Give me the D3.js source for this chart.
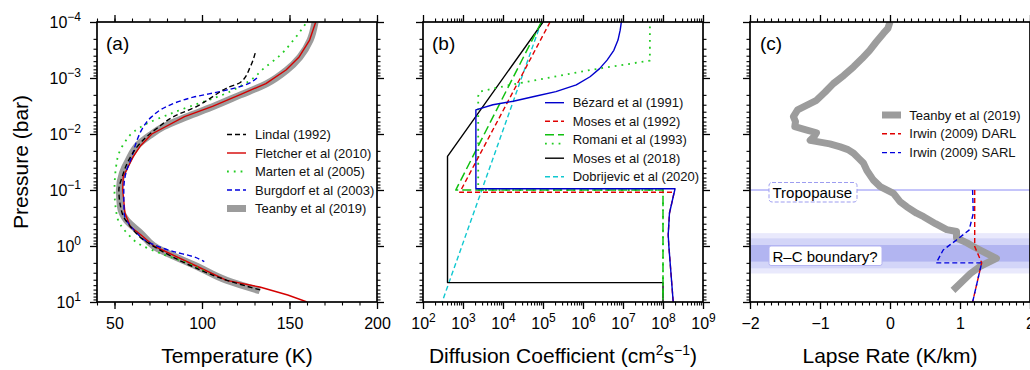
<!DOCTYPE html>
<html>
<head>
<meta charset="utf-8">
<script src="https://cdn.jsdelivr.net/npm/d3@7"></script>
<style>
body { margin: 0; background: #fff; }
svg { font-family: "Liberation Sans", Arial, Helvetica, sans-serif; }
</style>
</head>
<body>
<svg id="chart" width="1030" height="370"></svg>
<script>
// axis ranges and ticks
const pressureRange = [1e-4, 10];
const pressureTicks = [1e-4, 1e-3, 1e-2, 1e-1, 1, 10];
const tempRange = [40, 200];
const tempTicks = [50, 100, 150, 200];
const kzzRange = [1e2, 1e9];
const kzzTicks = [1e2, 1e3, 1e4, 1e5, 1e6, 1e7, 1e8, 1e9];
const lapseRange = [-2, 2];
const lapseTicks = [-2, -1, 0, 1, 2];

// (a) temperature profiles: [T (K), p (bar)]
const teanbyT = [[164.6,1e-4],[161.8,2.1e-4],[156,4.2e-4],[148.5,7.2e-4],[137,1.26e-3],[122,2.0e-3],[106.7,3.2e-3],
    [91.4,4.9e-3],[78,7.4e-3],[70.4,1.05e-2],[64,1.5e-2],[58,2.9e-2],[54.5,5.0e-2],[52.8,0.1],[53.4,0.2],[57,0.35],
    [65,0.59],[72.4,1],[97,2.3],[114,4.1],[133,6.3]];
const fletcher = [[165,1e-4],[161.5,2.1e-4],[155.5,4.2e-4],[148,7.2e-4],[136.5,1.26e-3],[121.5,2.0e-3],[106,3.2e-3],
    [90,4.9e-3],[71.3,1.0e-2],[65,1.6e-2],[60.8,2.5e-2],[55,5.8e-2],[54.7,0.1],[56,0.26],[59,0.45],[65,0.63],[72.5,1],
    [97,2.3],[114,4.1],[133,5.4],[149,7.5],[160,10]];
const lindal = [[130.4,3.6e-4],[127.6,6.3e-4],[121.9,1.2e-3],[114.3,1.5e-3],[106.7,2.1e-3],[97.1,3.2e-3],[83.8,4.9e-3],
    [74.3,7.9e-3],[68.6,1.1e-2],[62.9,1.7e-2],[58.2,2.9e-2],[54.4,5.8e-2],[52.5,0.1],[54.4,0.26],[59.1,0.45],
    [66.7,0.78],[74.3,1.1],[94.3,2.3],[114.3,4.1],[134.2,6.2]];
const marten = [[159,1.1e-4],[152.3,2.1e-4],[144.7,3.9e-4],[135.2,6.8e-4],[127.6,1.1e-3],[121.9,1.4e-3],[116.2,1.74e-3],
    [106.7,2.3e-3],[93.3,3.2e-3],[80,4.6e-3],[68.6,6.5e-3],[61,9.1e-3],[55.3,1.5e-2],[51.5,2.9e-2],[50,0.1],[51.5,0.3],
    [57.2,0.59],[64.8,0.95],[76.2,1.35],[91.4,2.0],[103.8,3.1]];
const burgdorf = [[131.4,1.0e-3],[124,1.35e-3],[112,1.7e-3],[95,2.2e-3],[80,3.2e-3],[71,5.0e-3],[66,7.9e-3],
    [63,1.26e-2],[60,2.5e-2],[56.5,5.0e-2],[55.3,0.1],[55.5,0.26],[61,0.51],[70.5,0.89],[83.8,1.26],[95,1.55],[101.3,1.9]];

// (b) diffusion coefficient profiles: [Kzz (cm2/s), p (bar)]
const bezard = [[9.1e6,1e-4],[8.5e6,1.4e-4],[7.5e6,2.1e-4],[5.9e6,3.2e-4],[4.0e6,4.8e-4],[2.6e6,6.8e-4],[1.5e6,9.5e-4],
    [6.8e5,1.33e-3],[2.1e5,1.75e-3],[6.8e4,2.1e-3],[1.8e4,2.6e-3],[5.6e3,3.0e-3],[2.1e3,3.7e-3],[2.1e3,0.095],
    [2.0e8,0.095],[1.45e8,0.26],[1.35e8,0.63],[1.4e8,1.0],[1.8e8,10]];
const moses1992 = [[1.5e5,1e-4],[8.3e2,0.11],[1.9e8,0.11],[1.45e8,0.26],[1.35e8,0.63],[1.4e8,1.0],[1.8e8,10]];
const romaniA = [[9.1e4,1e-4],[6.6e2,0.1],[1e8,0.1],[1e8,10]];
const romaniB = [[4.7e7,1.2e-4],[4.7e7,4.9e-4],[1.5e6,7.2e-4],[1.5e4,1.33e-3],[2.6e3,1.75e-3],[2.4e3,2.1e-3],
    [2.4e3,0.1],[1e8,0.1],[1e8,10]];
const moses2018 = [[1e5,1e-4],[4.1e2,2.5e-2],[4.1e2,4.5],[1e8,4.5],[1e8,10]];
const dobrijevic = [[9.1e4,1e-4],[3.0e2,10]];

// (c) lapse rate profiles: [K/km, p (bar)]
const teanbyL = [[0,1e-4],[-0.03,1.3e-4],[-0.095,1.6e-4],[-0.2,2.3e-4],[-0.29,3.2e-4],[-0.4,4.5e-4],[-0.52,6.3e-4],
    [-0.66,9e-4],[-0.81,1.26e-3],[-0.93,1.8e-3],[-1.05,2.5e-3],[-1.2,3.1e-3],[-1.32,3.7e-3],
    [-1.38,4.9e-3],[-1.35,6e-3],[-1.36,7.4e-3],[-1.2,8.4e-3],[-1.05,9.5e-3],[-1.08,1.1e-2],[-1.14,1.3e-2],[-0.86,1.5e-2],
    [-0.71,1.7e-2],[-0.6,1.9e-2],[-0.52,2.2e-2],[-0.45,2.7e-2],[-0.38,3.3e-2],[-0.33,4.5e-2],[-0.24,6.6e-2],
    [-0.14,8.7e-2],[0.05,0.115],[0.14,0.16],[0.24,0.2],[0.38,0.26],[0.48,0.3],[0.65,0.4],[0.81,0.51],
    [0.95,0.55],[0.95,0.72],[1.1,0.88],[1.19,1.02],[1.35,1.3],[1.52,1.66],[1.29,2.3],[1.15,3.1],[1.05,4.1],[0.9,6.2]];
const irwinDarl = [[1.21,0.1],[1.21,1.02],[1.31,2.0],[1.18,10]];
const irwinSarl = [[1.18,0.1],[1.19,0.26],[1.13,0.52],[0.95,0.78],[0.76,1.18],[0.66,2.0],[1.31,2.0],[1.18,10]];
const tropopause = 0.1;
const rcBand = [[0.59,3.1],[0.73,2.5],[0.96,1.9]];

const tempNames = ["Lindal (1992)", "Fletcher et al (2010)", "Marten et al (2005)", "Burgdorf et al (2003)", "Teanby et al (2019)"];
const kzzNames = ["Bézard et al (1991)", "Moses et al (1992)", "Romani et al (1993)", "Moses et al (2018)", "Dobrijevic et al (2020)"];
const lapseNames = ["Teanby et al (2019)", "Irwin (2009) DARL", "Irwin (2009) SARL"];

// layout
const W = 280, H = 280, TOP = 22;
const panelLeft = [97, 423, 750];
const svg = d3.select("#chart");

const y = d3.scaleLog().domain(pressureRange).range([0, H]);

const gray = { color: "#9c9c9c", width: 7 };
const blackDash = { color: "#000", width: 1.4, dash: "5,3" };
const red = { color: "#d40000", width: 1.4 };
const redDash = { color: "#e00000", width: 1.4, dash: "5,3" };
const greenDot = { color: "#22cc22", width: 1.8, dash: "1.8,5" };
const greenDash = { color: "#10c010", width: 1.5, dash: "9,4" };
const blue = { color: "#0000cc", width: 1.4 };
const blueDash = { color: "#0000dd", width: 1.4, dash: "5,3" };
const black = { color: "#000", width: 1.4 };
const cyanDash = { color: "#10c8d0", width: 1.4, dash: "5,3" };

function superscript(sel, base, exp) {
    sel.text(base);
    sel.append("tspan").attr("dy", -7).attr("font-size", 12).text(exp);
}

function expLabel(d) {
    const e = Math.round(Math.log10(d));
    return e < 0 ? "\u2212" + (-e) : String(e);
}

function makePanel(i, x, clipId) {
    const g = svg.append("g").attr("transform", "translate(" + panelLeft[i] + "," + TOP + ")");
    g.append("clipPath").attr("id", clipId)
        .append("rect").attr("width", W).attr("height", H);
    const plot = g.append("g").attr("clip-path", "url(#" + clipId + ")");
    return { g: g, plot: plot, x: x };
}

function drawAxes(p, xMajor, xMinor, xLabel, superX, showY) {
    const yMinor = y.ticks().filter(d => pressureTicks.indexOf(d) < 0);
    const sides = [
        [d3.axisBottom, p.x, xMajor, xMinor, "translate(0," + H + ")", true, superX],
        [d3.axisTop, p.x, xMajor, xMinor, "translate(0,0)", false, false],
        [d3.axisLeft, y, pressureTicks, yMinor, "translate(0,0)", showY, true],
        [d3.axisRight, y, pressureTicks, yMinor, "translate(" + W + ",0)", false, false]
    ];
    sides.forEach(s => {
        const [gen, sc, major, minor, tr, labels, sup] = s;
        p.g.append("g").attr("transform", tr)
            .call(gen(sc).tickValues(minor).tickSize(3.5).tickFormat(""))
            .call(a => a.select(".domain").remove())
            .selectAll("line").attr("stroke-width", 1.1);
        const ax = p.g.append("g").attr("transform", tr)
            .call(gen(sc).tickValues(major).tickSize(7).tickPadding(9)
                .tickFormat(labels ? xLabel : ""))
            .attr("font-size", 16).attr("font-family", null);
        ax.select(".domain").remove();
        ax.selectAll("line").attr("stroke-width", 1.3);
        if (labels && sup) {
            ax.selectAll(".tick text").each(function(d) {
                superscript(d3.select(this), "10", expLabel(d));
            });
        }
    });
    p.g.append("rect").attr("width", W).attr("height", H)
        .attr("fill", "none").attr("stroke", "#000").attr("stroke-width", 1.7);
}

function drawLine(p, data, st, curve) {
    const line = d3.line()
        .x(d => p.x(d[0]))
        .y(d => y(d[1]))
        .curve(curve || d3.curveLinear);
    p.plot.append("path")
        .datum(data)
        .attr("d", line)
        .attr("fill", "none")
        .attr("stroke", st.color)
        .attr("stroke-width", st.width)
        .attr("stroke-dasharray", st.dash || null)
        .attr("stroke-linejoin", "round");
}

function legendSample(lg, st, x, yy) {
    lg.append("line")
        .attr("x1", x).attr("x2", x + 19)
        .attr("y1", yy).attr("y2", yy)
        .attr("stroke", st.color)
        .attr("stroke-width", st.width)
        .attr("stroke-dasharray", st.dash || null);
}

function drawLegend(p, names, styles, lx, tx, top, step) {
    const lg = p.g.append("g");
    names.forEach((name, i) => {
        const yy = top + i * step;
        styles[i].forEach(s => legendSample(lg, s[0], lx, yy + s[1]));
        lg.append("text")
            .attr("x", tx).attr("y", yy).attr("dy", "0.35em")
            .attr("font-size", 13).attr("fill", "#111")
            .text(name);
    });
}

function panelTag(p, txt, x) {
    p.g.append("text").attr("x", x).attr("y", 28)
        .attr("font-size", 19).text(txt);
}

function axisTitle(cx, parts) {
    const t = svg.append("text")
        .attr("x", cx).attr("y", 363)
        .attr("text-anchor", "middle")
        .attr("font-size", 21);
    parts.forEach(pt => {
        t.append("tspan").attr("dy", pt[1]).attr("font-size", pt[2] || null).text(pt[0]);
    });
}

// ---------- panel (a) ----------
const pa = makePanel(0, d3.scaleLinear().domain(tempRange).range([0, W]), "clipA");
drawLine(pa, teanbyT, gray, d3.curveMonotoneY);
drawLine(pa, fletcher, red);
drawLine(pa, marten, greenDot, d3.curveMonotoneY);
drawLine(pa, burgdorf, blueDash, d3.curveMonotoneY);
drawLine(pa, lindal, blackDash, d3.curveMonotoneY);
drawAxes(pa, tempTicks, d3.range(40, 201, 10), d3.format("d"), false, true);
drawLegend(pa, tempNames, [[[blackDash, 0]], [[red, 0]], [[greenDot, 0]], [[blueDash, 0]], [[gray, 0]]],
    130, 158, 112.5, 18.5);
panelTag(pa, "(a)", 9);

// ---------- panel (b) ----------
const pb = makePanel(1, d3.scaleLog().domain(kzzRange).range([0, W]), "clipB");
drawLine(pb, dobrijevic, cyanDash);
drawLine(pb, moses2018, black);
drawLine(pb, romaniB, greenDot);
drawLine(pb, romaniA, greenDash);
drawLine(pb, moses1992, redDash);
drawLine(pb, bezard, blue);
drawAxes(pb, kzzTicks, pb.x.ticks().filter(d => kzzTicks.indexOf(d) < 0), "", true, false);
// both Romani et al (1993) curves share one legend row
drawLegend(pb, kzzNames, [[[blue, 0]], [[redDash, 0]], [[greenDash, -5], [greenDot, 4]], [[black, 0]], [[cyanDash, 0]]],
    122, 149.7, 80.7, 18.5);
panelTag(pb, "(b)", 9);

// ---------- panel (c) ----------
const pc = makePanel(2, d3.scaleLinear().domain(lapseRange).range([0, W]), "clipC");
const bandFill = ["#e9e9fc", "#d3d5f8", "#b2b5f1"];
rcBand.forEach((b, i) => {
    pc.plot.append("rect")
        .attr("x", 0).attr("width", W)
        .attr("y", y(b[0])).attr("height", y(b[1]) - y(b[0]))
        .attr("fill", bandFill[i]);
});
pc.plot.append("line")
    .attr("x1", 0).attr("x2", W)
    .attr("y1", y(tropopause)).attr("y2", y(tropopause))
    .attr("stroke", "#8a8af5").attr("stroke-width", 1);
drawLine(pc, teanbyL, gray);
drawLine(pc, irwinDarl, redDash);
drawLine(pc, irwinSarl, blueDash);
drawAxes(pc, lapseTicks, d3.range(-20, 21).map(d => d / 10), d3.format("d"), false, false);
drawLegend(pc, lapseNames, [[[gray, 0]], [[redDash, 0]], [[blueDash, 0]]], 132, 159.3, 93, 18.8);
panelTag(pc, "(c)", 10);

// annotation boxes
pc.g.append("rect").attr("x", 19).attr("y", 160.5).attr("width", 88).attr("height", 19.5).attr("rx", 3)
    .attr("fill", "#fff").attr("stroke", "#9d9df0").attr("stroke-dasharray", "4,2");
pc.g.append("text").attr("x", 22.5).attr("y", 176).attr("font-size", 15).text("Tropopause");
pc.g.append("rect").attr("x", 19).attr("y", 224).attr("width", 113).attr("height", 19.5).attr("rx", 2)
    .attr("fill", "#fff").attr("stroke", "#b4b4f2");
pc.g.append("text").attr("x", 22.5).attr("y", 239.5).attr("font-size", 15).text("R\u2013C boundary?");

// axis titles
svg.append("text")
    .attr("transform", "translate(28," + (TOP + H / 2) + ") rotate(-90)")
    .attr("text-anchor", "middle").attr("font-size", 21)
    .text("Pressure (bar)");
axisTitle(panelLeft[0] + W / 2, [["Temperature (K)", 0]]);
axisTitle(panelLeft[1] + W / 2, [["Diffusion Coefficient (cm", 0], ["2", -8, 14], ["s", 8], ["\u22121", -8, 14], [")", 8]]);
axisTitle(panelLeft[2] + W / 2, [["Lapse Rate (K/km)", 0]]);
</script>
</body>
</html>
